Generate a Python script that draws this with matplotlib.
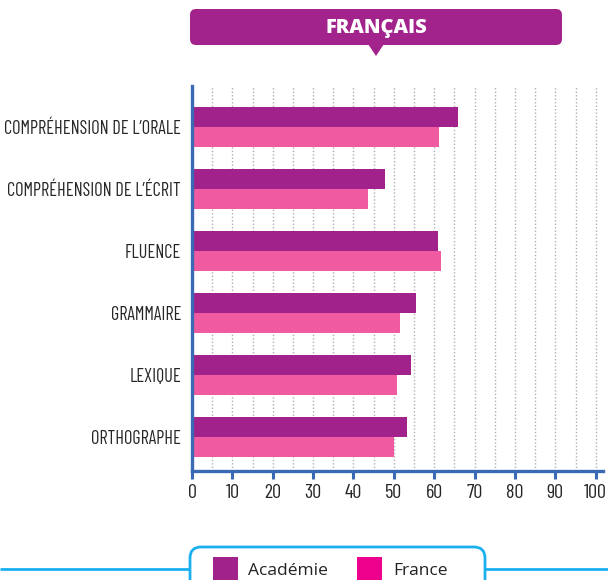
import matplotlib
matplotlib.use("Agg")
import matplotlib.pyplot as plt
from matplotlib.patches import FancyBboxPatch, Polygon, Rectangle
from matplotlib import font_manager as fm
import numpy as np

categories = ["COMPRÉHENSION DE L’ORALE", "COMPRÉHENSION DE L’ÉCRIT", "FLUENCE",
              "GRAMMAIRE", "LEXIQUE", "ORTHOGRAPHE"]
academie = [65.9, 47.7, 61.0, 55.5, 54.2, 53.3]
france = [61.2, 43.6, 61.7, 51.5, 50.8, 50.0]
xticks = [0, 10, 20, 30, 40, 50, 60, 70, 80, 90, 100]
title = "FRANÇAIS"
legend_labels = ["Académie", "France"]

C_ACAD = "#a0228a"
C_FR = "#ef5aa0"
C_FR_LEG = "#ec008c"
C_AXIS = "#3a6ab4"
C_LEG = "#1ab0ef"

fonts = fm.fontManager.ttflist


def pick(cands, default="DejaVu Sans", min_weight=0):
    for c in cands:
        if any(f.name == c and (f.weight if isinstance(f.weight, int) else 400) >= min_weight for f in fonts):
            return c
    return default


cond = pick(["Barlow Condensed", "Roboto Condensed", "Saira Condensed", "Encode Sans Condensed"])
title_font = pick(["Nunito", "Varela Round", "Open Sans", "Lato"], min_weight=800)
leg_font = pick(["Open Sans", "Noto Sans"])

W, H = 608, 580
fig = plt.figure(figsize=(W / 100, H / 100), dpi=100)

left, right, top, bottom = 192, 603, 86, 471
ax = fig.add_axes([left / W, 1 - bottom / H, (right - left) / W, (bottom - top) / H])

y = np.arange(len(categories))
h = 0.322
ax.barh(y - h / 2, academie, height=h, color=C_ACAD, zorder=3)
ax.barh(y + h / 2, france, height=h, color=C_FR, zorder=3)

ax.set_ylim(len(categories) - 1 + 0.54, -0.66)
ax.set_xlim(0, 101.8)
ax.set_xticks(xticks)
ax.set_yticks(y)
ax.set_yticklabels(categories, fontfamily=cond, fontsize=13.2, fontweight="normal", color="#262626")
ax.set_xticklabels([str(t) for t in xticks], fontfamily=cond, fontsize=14.5, fontweight="normal", color="#262626")

for xv in range(5, 101, 5):
    ax.axvline(xv, color="#b0b0b0", linestyle=(0, (1, 1.5)), linewidth=1, zorder=1)

for s in ["top", "right"]:
    ax.spines[s].set_visible(False)
for s in ["left", "bottom"]:
    ax.spines[s].set_color(C_AXIS)
    ax.spines[s].set_linewidth(2.4)
    ax.spines[s].set_zorder(4)
ax.tick_params(axis="y", length=0, pad=8)
ax.tick_params(axis="x", which="major", length=5.5, width=2.2, color=C_AXIS, pad=4)

ov = fig.add_axes([0, 0, 1, 1], zorder=10)
ov.set_xlim(0, W)
ov.set_ylim(H, 0)
ov.axis("off")

ov.add_patch(FancyBboxPatch((194, 13), 364, 28, boxstyle="round,pad=4,rounding_size=6",
                            facecolor="#a3238d", edgecolor="none"))
ov.add_patch(Polygon([[368, 44], [384, 44], [376, 56]], closed=True, facecolor="#a3238d", edgecolor="none"))
ov.text(376.5, 28, title, color="white", fontsize=14.5, fontweight=900, fontfamily=title_font,
        ha="center", va="center")

ov.plot([0, 190], [569, 569], color=C_LEG, linewidth=2, solid_capstyle="butt")
ov.plot([485, 608], [569, 569], color=C_LEG, linewidth=2, solid_capstyle="butt")
ov.add_patch(FancyBboxPatch((190, 547), 295, 60, boxstyle="round,pad=0,rounding_size=11",
                            facecolor="white", edgecolor=C_LEG, linewidth=2))
ov.add_patch(Rectangle((213, 557), 25, 25, facecolor=C_ACAD, edgecolor="none"))
ov.add_patch(Rectangle((357, 557), 25, 25, facecolor=C_FR_LEG, edgecolor="none"))
ov.text(248, 571, legend_labels[0], fontsize=12.5, fontfamily=leg_font, color="#222222", va="center", ha="left")
ov.text(393, 571, legend_labels[1], fontsize=12.5, fontfamily=leg_font, color="#222222", va="center", ha="left")

fig.savefig("out.png", dpi=100)
